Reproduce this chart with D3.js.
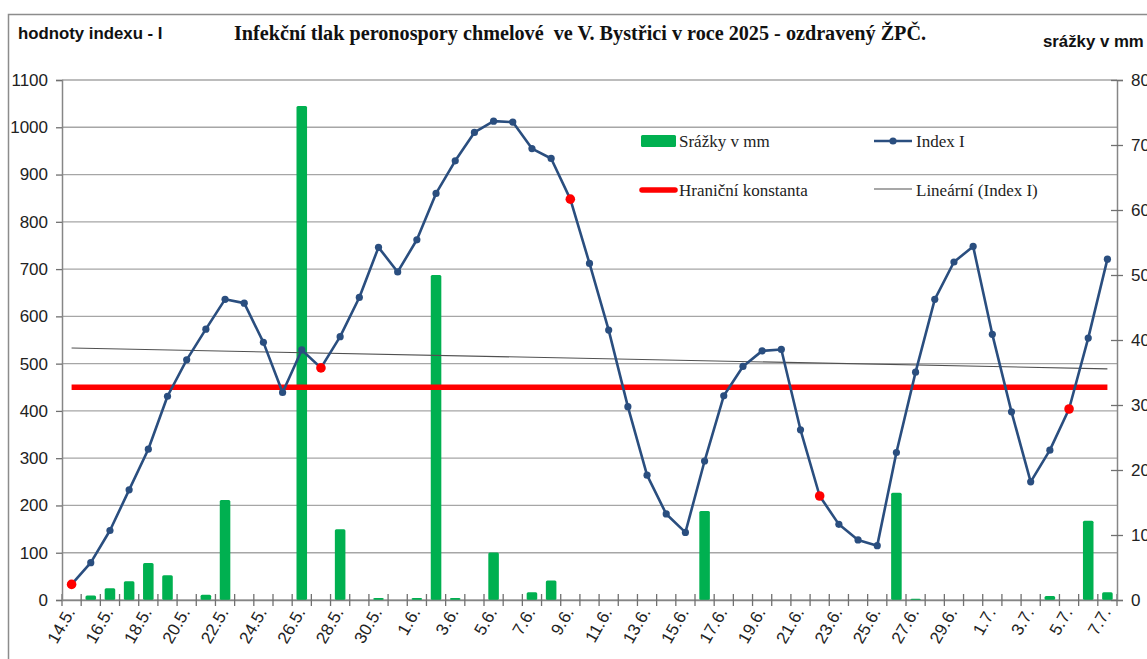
<!DOCTYPE html>
<html>
<head>
<meta charset="utf-8">
<script src="https://cdn.jsdelivr.net/npm/d3@7/dist/d3.min.js"></script>
<style>
  body { margin: 0; background: #fff; }
  svg { display: block; }
</style>
</head>
<body>
<div id="chart"></div>
<script>
const w = 1147,
    h = 659;

// dates (category axis)
const dates = ["14.5.","15.5.","16.5.","17.5.","18.5.","19.5.","20.5.","21.5.","22.5.","23.5.",
    "24.5.","25.5.","26.5.","27.5.","28.5.","29.5.","30.5.","31.5.",
    "1.6.","2.6.","3.6.","4.6.","5.6.","6.6.","7.6.","8.6.","9.6.","10.6.",
    "11.6.","12.6.","13.6.","14.6.","15.6.","16.6.","17.6.","18.6.","19.6.","20.6.",
    "21.6.","22.6.","23.6.","24.6.","25.6.","26.6.","27.6.","28.6.","29.6.","30.6.",
    "1.7.","2.7.","3.7.","4.7.","5.7.","6.7.","7.7."];

// Index I (left axis)
const indexI = [33,79,147,233,319,431,508,573,636,628,
    545,439,529,491,557,640,746,694,
    762,860,929,989,1013,1011,955,934,848,712,
    571,409,264,182,143,294,432,494,527,530,
    360,220,160,127,115,312,482,636,715,748,
    562,398,250,317,404,554,721];

// srážky v mm (right axis)
const rain = [0,0.7,1.8,2.9,5.7,3.8,0,0.8,15.4,0,
    0,0,76.0,0,10.9,0,0.3,0,
    0.3,50.0,0.3,0,7.3,0,1.2,3.0,0,0,
    0,0,0,0,0,13.7,0,0,0,0,
    0,0,0,0,0,16.5,0.2,0,0,0,
    0,0,0,0.6,0,12.2,1.2];

// points highlighted in red
const redPoints = [0, 13, 26, 39, 52];

// hraniční konstanta
const limitValue = 450;

// lineární trend (Index I), start / end value
const trendEnds = [533, 489];

const leftTicks = d3.range(0, 1101, 100);
const rightTicks = d3.range(0, 81, 10);

const margin = {left: 62, right: 1117, top: 80, bottom: 600};

const svg = d3.select("#chart")
    .append("svg")
    .attr("width", w)
    .attr("height", h)
    .style("font-family", "'Liberation Sans', Arial, sans-serif");

// outer chart border
svg.append("rect")
    .attr("x", 8.5).attr("y", 14.5)
    .attr("width", 1300).attr("height", 800)
    .attr("fill", "none")
    .attr("stroke", "#8c8c8c")
    .attr("stroke-width", 1.5);

const xScale = d3.scaleBand()
    .domain(dates)
    .range([margin.left, margin.right])
    .paddingInner(0.45)
    .paddingOuter(0.225);

const xPoint = d3.scalePoint()
    .domain(dates)
    .range([margin.left, margin.right])
    .padding(0.5);

const yLeft = d3.scaleLinear()
    .domain([0, 1100])
    .range([margin.bottom, margin.top]);

const yRight = d3.scaleLinear()
    .domain([0, 80])
    .range([margin.bottom, margin.top]);

// gridlines
svg.append("g")
    .selectAll("line")
    .data(leftTicks)
    .enter()
    .append("line")
    .attr("x1", margin.left)
    .attr("x2", margin.right)
    .attr("y1", function (d) { return yLeft(d) })
    .attr("y2", function (d) { return yLeft(d) })
    .attr("stroke", "#a6a6a6")
    .attr("stroke-width", 1.3);

// bars - srážky
const barData = rain.map(function (v, i) { return {date: dates[i], v: v} })
    .filter(function (d) { return d.v > 0 });

svg.append("g")
    .selectAll("rect")
    .data(barData)
    .enter()
    .append("rect")
    .attr("x", function (d) { return xScale(d.date) })
    .attr("y", function (d) { return yRight(d.v) })
    .attr("width", xScale.bandwidth())
    .attr("height", function (d) { return yRight(0) - yRight(d.v) })
    .attr("rx", 1.5)
    .attr("fill", "#00b050");

// x axis line
svg.append("g")
    .attr("transform", "translate(0," + margin.bottom + ")")
    .call(d3.axisBottom(xScale).tickSize(0).tickFormat(""))
    .call(function (g) { g.select(".domain").attr("stroke", "#868686").attr("stroke-width", 1.5) });

// x tick marks at category boundaries
const step = xScale.step();
svg.append("g")
    .selectAll("line")
    .data(d3.range(dates.length + 1))
    .enter()
    .append("line")
    .attr("x1", function (d) { return margin.left + d * step })
    .attr("x2", function (d) { return margin.left + d * step })
    .attr("y1", margin.bottom - 6)
    .attr("y2", margin.bottom + 6)
    .attr("stroke", "#707070")
    .attr("stroke-width", 1.3);

// x labels (every second date)
svg.append("g")
    .selectAll("text")
    .data(dates.filter(function (d, i) { return i % 2 === 0 }))
    .enter()
    .append("text")
    .attr("transform", function (d) {
        return "translate(" + (xPoint(d) + 4) + "," + (margin.bottom + 12) + ") rotate(-60)";
    })
    .attr("text-anchor", "end")
    .attr("font-size", 17)
    .attr("fill", "#222")
    .text(function (d) { return d });

const yAxisL = d3.axisLeft(yLeft)
    .tickValues(leftTicks)
    .tickFormat(d3.format("d"))
    .tickSize(6)
    .tickPadding(8);

svg.append("g")
    .attr("transform", "translate(" + margin.left + ",0)")
    .call(yAxisL)
    .call(function (g) {
        g.select(".domain").attr("stroke", "#868686").attr("stroke-width", 1.5);
        g.selectAll(".tick line").attr("stroke", "#707070").attr("stroke-width", 1.3);
        g.selectAll(".tick text").attr("font-size", 17).attr("fill", "#222")
            .attr("font-family", "'Liberation Sans', Arial, sans-serif");
    });

const yAxisR = d3.axisRight(yRight)
    .tickValues(rightTicks)
    .tickFormat(d3.format("d"))
    .tickSize(6)
    .tickPadding(8);

svg.append("g")
    .attr("transform", "translate(" + margin.right + ",0)")
    .call(yAxisR)
    .call(function (g) {
        g.select(".domain").attr("stroke", "#868686").attr("stroke-width", 1.5);
        g.selectAll(".tick line").attr("x1", -6).attr("stroke", "#707070").attr("stroke-width", 1.3);
        g.selectAll(".tick text").attr("font-size", 17).attr("fill", "#222")
            .attr("font-family", "'Liberation Sans', Arial, sans-serif");
    });

// trend line
svg.append("line")
    .attr("x1", xPoint(dates[0]))
    .attr("x2", xPoint(dates[dates.length - 1]))
    .attr("y1", yLeft(trendEnds[0]))
    .attr("y2", yLeft(trendEnds[1]))
    .attr("stroke", "#505050")
    .attr("stroke-width", 1.1);

// limit line
svg.append("line")
    .attr("x1", xPoint(dates[0]))
    .attr("x2", xPoint(dates[dates.length - 1]))
    .attr("y1", yLeft(limitValue))
    .attr("y2", yLeft(limitValue))
    .attr("stroke", "#ff0000")
    .attr("stroke-width", 5.5);

// Index I line
const line = d3.line()
    .x(function (d, i) { return xPoint(dates[i]) })
    .y(function (d) { return yLeft(d) });

svg.append("path")
    .datum(indexI)
    .attr("d", line)
    .attr("fill", "none")
    .attr("stroke", "#2a4e7f")
    .attr("stroke-width", 2.6)
    .attr("stroke-linejoin", "round");

svg.append("g")
    .selectAll("circle")
    .data(indexI)
    .enter()
    .append("circle")
    .attr("cx", function (d, i) { return xPoint(dates[i]) })
    .attr("cy", function (d) { return yLeft(d) })
    .attr("r", function (d, i) { return redPoints.indexOf(i) >= 0 ? 4.8 : 3.6 })
    .attr("fill", function (d, i) { return redPoints.indexOf(i) >= 0 ? "#ff0000" : "#2a4e7f" });

// titles
svg.append("text")
    .attr("x", 580).attr("y", 40)
    .attr("text-anchor", "middle")
    .attr("font-family", "'Liberation Serif', 'Times New Roman', serif")
    .attr("font-weight", "bold")
    .attr("font-size", 20.2)
    .attr("fill", "#111")
    .style("white-space", "pre")
    .text("Infekční tlak peronospory chmelové  ve V. Bystřici v roce 2025 - ozdravený ŽPČ.");

svg.append("text")
    .attr("x", 18).attr("y", 39)
    .attr("font-weight", "bold")
    .attr("font-size", 16.8)
    .attr("fill", "#111")
    .text("hodnoty indexu - I");

svg.append("text")
    .attr("x", 1043).attr("y", 47)
    .attr("font-weight", "bold")
    .attr("font-size", 16.8)
    .attr("fill", "#111")
    .text("srážky v mm");

// legend
const legend = svg.append("g")
    .attr("font-family", "'Liberation Serif', 'Times New Roman', serif")
    .attr("font-size", 17)
    .attr("fill", "#222");

legend.append("rect")
    .attr("x", 641).attr("y", 135).attr("width", 35).attr("height", 12).attr("rx", 1.5)
    .attr("fill", "#00b050");
legend.append("text").attr("x", 679).attr("y", 147).text("Srážky v mm");

legend.append("line")
    .attr("x1", 642).attr("x2", 675).attr("y1", 190).attr("y2", 190)
    .attr("stroke", "#ff0000").attr("stroke-width", 5.5).attr("stroke-linecap", "round");
legend.append("text").attr("x", 679).attr("y", 196).text("Hraniční konstanta");

legend.append("line")
    .attr("x1", 874).attr("x2", 912).attr("y1", 141).attr("y2", 141)
    .attr("stroke", "#2a4e7f").attr("stroke-width", 2.6);
legend.append("circle")
    .attr("cx", 893).attr("cy", 141).attr("r", 3.6).attr("fill", "#2a4e7f");
legend.append("text").attr("x", 916).attr("y", 147).text("Index I");

legend.append("line")
    .attr("x1", 874).attr("x2", 912).attr("y1", 189).attr("y2", 189)
    .attr("stroke", "#505050").attr("stroke-width", 1.1);
legend.append("text").attr("x", 916).attr("y", 196).text("Lineární (Index I)");
</script>
</body>
</html>
